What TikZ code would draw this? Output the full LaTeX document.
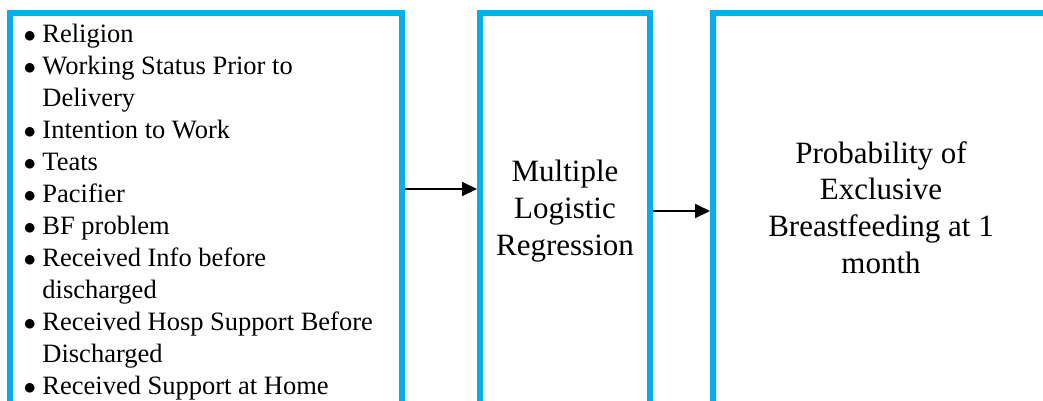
\documentclass[tikz,border=0pt]{standalone}
\usepackage{fontspec}
\setmainfont{Liberation Serif}
\usepackage{tikz}
\usetikzlibrary{arrows.meta, matrix}
\definecolor{boxblue}{RGB}{0,176,240}

\begin{document}
\begin{tikzpicture}[x=1pt, y=-1pt,
	boxframe/.style={draw=boxblue, line width=6pt, inner sep=0pt, minimum height=396pt},
	bigtext/.style={font=\fontsize{31}{36.7}\selectfont, align=center},
	flow/.style={-{Triangle[length=15pt, width=14pt]}, line width=2pt}]
	\path[use as bounding box, clip] (0,0) rectangle (1043,400);

	\node[boxframe, minimum width=392pt] (factors) at (206,211) {};
	\node[boxframe, bigtext, minimum width=170pt] (model) at (565,211)
		{\strut Multiple\\Logistic\\Regression\strut};
	\node[boxframe, bigtext, minimum width=336pt] (outcome) at (881,211)
		{\strut Probability of\\Exclusive\\Breastfeeding at 1\\month\strut};

	\matrix(varlist)[matrix of nodes, ampersand replacement=\&, nodes in empty cells,
	anchor=north west, inner sep=0pt, column sep=6.4pt, row sep=0pt,
	nodes={anchor=base west, inner sep=0pt, text height=22pt, text depth=10pt,
		font=\fontsize{26.5}{32}\selectfont}]
	at (23.4,20)
	{ % bullet column, then the text
		$\bullet$ \& Religion\\
		$\bullet$ \& Working Status Prior to\\
		\& Delivery\\
		$\bullet$ \& Intention to Work\\
		$\bullet$ \& Teats\\
		$\bullet$ \& Pacifier\\
		$\bullet$ \& BF problem\\
		$\bullet$ \& Received Info before\\
		\& discharged\\
		$\bullet$ \& Received Hosp Support Before\\
		\& Discharged\\
		$\bullet$ \& Received Support at Home\\
	};

	\draw[flow] ([yshift=22pt]factors.east) -- ([yshift=22pt]model.west);
	\draw[flow] (model) -- (outcome);
\end{tikzpicture}
\end{document}
